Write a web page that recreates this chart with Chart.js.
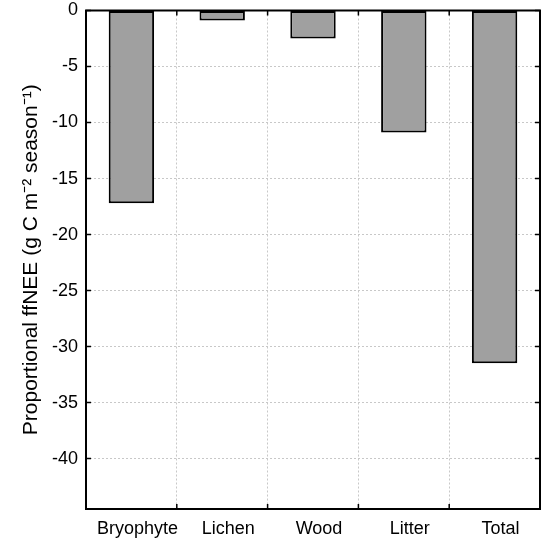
<!DOCTYPE html>
<html><head><meta charset="utf-8">
<script src="https://cdn.jsdelivr.net/npm/chart.js@4.4.0/dist/chart.umd.min.js"></script>
<style>html,body{margin:0;padding:0;background:#fff}#wrap{width:544px;height:538px}</style>
</head><body><div id="wrap"><canvas id="c" width="544" height="538"></canvas></div>
<script>
const categories = ['Bryophyte', 'Lichen', 'Wood', 'Litter', 'Total'];
const ffneeValues = [-17.2, -0.9, -2.5, -10.9, -31.5];
const yTickValues = [0, -5, -10, -15, -20, -25, -30, -35, -40];
const yMin = -44.5, yMax = 0;
const yTitle = 'Proportional ffNEE (g C m\u207B\u00B2 season\u207B\u00B9)';

const FONT = '"Liberation Sans", Arial, sans-serif';

const frameTicks = {
  id: 'frameTicks',
  afterDraw(chart) {
    const ctx = chart.ctx;
    const {left, right, top, bottom} = chart.chartArea;
    const x = chart.scales.x, y = chart.scales.y;
    ctx.save();
    ctx.strokeStyle = '#000';
    ctx.lineWidth = 1.5;
    ctx.beginPath();
    y.ticks.forEach(t => {
      const py = y.getPixelForValue(t.value);
      ctx.moveTo(left, py); ctx.lineTo(left + 5, py);
      ctx.moveTo(right, py); ctx.lineTo(right - 5, py);
    });
    for (let i = 0; i < categories.length - 1; i++) {
      const px = (x.getPixelForValue(i) + x.getPixelForValue(i + 1)) / 2;
      ctx.moveTo(px, bottom); ctx.lineTo(px, bottom - 5);
      ctx.moveTo(px, top); ctx.lineTo(px, top + 5);
    }
    ctx.stroke();
    ctx.lineWidth = 2;
    ctx.strokeRect(left, top, right - left, bottom - top);
    ctx.restore();
  }
};

new Chart(document.getElementById('c'), {
  type: 'bar',
  data: {
    labels: categories,
    datasets: [{
      data: ffneeValues,
      backgroundColor: '#a0a0a0',
      borderColor: '#000',
      borderWidth: 2,
      borderSkipped: false,
      barPercentage: 0.5,
      categoryPercentage: 1.0
    }]
  },
  options: {
    responsive: false,
    animation: false,
    layout: {padding: {left: 0, right: 4, top: 0, bottom: 0}},
    plugins: {legend: {display: false}, tooltip: {enabled: false}},
    scales: {
      x: {
        grid: {display: true, offset: true, color: '#c8c8c8', lineWidth: 1, drawTicks: false},
        border: {display: false, dash: [2, 2]},
        ticks: {color: '#000', font: {family: FONT, size: 18}, padding: 9, labelOffset: 6, maxRotation: 0},
        afterFit(s) { s.height = 29; }
      },
      y: {
        min: yMin, max: yMax,
        afterBuildTicks(s) { s.ticks = yTickValues.map(v => ({value: v})); },
        grid: {display: true, color: '#c8c8c8', lineWidth: 1, drawTicks: false},
        border: {display: false, dash: [2, 2]},
        ticks: {color: '#000', font: {family: FONT, size: 18}, padding: 8, includeBounds: false},
        title: {display: true, text: yTitle, color: '#000', font: {family: FONT, size: 21}, padding: {top: 19, bottom: 0}},
        afterFit(s) { s.width = 86; s.paddingTop = 10.5; s.paddingBottom = 0; }
      }
    }
  },
  plugins: [frameTicks]
});
</script></body></html>
